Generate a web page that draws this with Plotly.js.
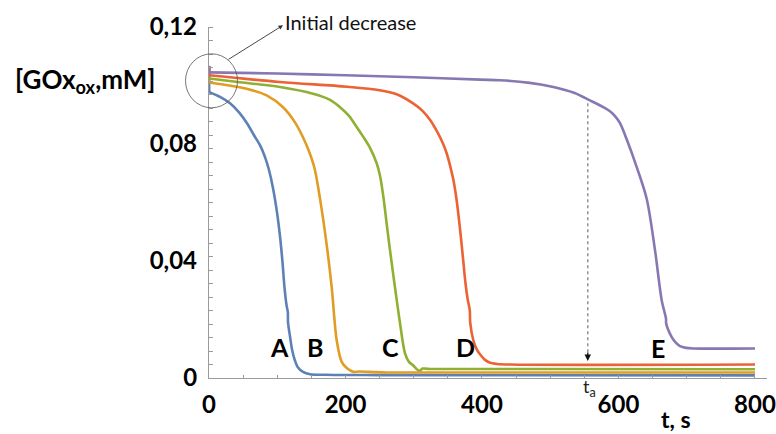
<!DOCTYPE html>
<html>
<head>
<meta charset="utf-8">
<script src="https://cdn.plot.ly/plotly-3.0.1.min.js"></script>
<style>
  html, body { margin: 0; padding: 0; background: #fff; }
  #chart { width: 776px; height: 434px; }
</style>
</head>
<body>
<div id="chart"></div>
<script>
// Curve names (labels drawn next to each curve)
const curveNames = ["A", "B", "C", "D", "E"];

// Time (s) and oxidised GOx concentration (mM) for each curve
const tA = [0, 0.3, 16.1, 30.8, 44.0, 55.7, 65.9, 74.7, 82.1, 87.9, 93.8, 99.6, 104.0, 107.7, 110.6, 113.6, 115.5, 115.8, 118.7, 121.6, 125.3, 130.4, 137.7, 148.0, 170.0, 250, 800];
const gA = [0.1067, 0.0977, 0.0961, 0.0939, 0.0908, 0.0871, 0.0830, 0.0796, 0.0755, 0.0711, 0.0649, 0.0567, 0.0485, 0.0396, 0.0310, 0.0249, 0.0225, 0.0190, 0.0142, 0.0098, 0.0064, 0.0036, 0.0021, 0.0013, 0.0011, 0.0010, 0.0009];

const tB = [0, 0.3, 30.0, 55.2, 84.5, 108.9, 126.0, 137.7, 146.5, 154.6, 162.6, 172.5, 179.8, 187.1, 194.4, 202.2, 211.4, 220, 260, 800];
const gB = [0.1067, 0.1010, 0.1000, 0.0989, 0.0966, 0.0925, 0.0874, 0.0823, 0.0775, 0.0717, 0.0614, 0.0454, 0.0310, 0.0129, 0.0055, 0.0033, 0.0021, 0.0022, 0.0019, 0.0019];

const tC = [0, 0.3, 45.4, 104.0, 152.4, 177.3, 192.0, 205.1, 216.4, 225.6, 235.9, 245.7, 250.5, 255.4, 260.1, 265.2, 272.5, 279.9, 287.2, 293.0, 299.3, 306.2, 310.6, 312.1, 323.8, 800];
const gC = [0.1067, 0.1024, 0.1011, 0.0995, 0.0972, 0.0951, 0.0926, 0.0896, 0.0858, 0.0826, 0.0787, 0.0734, 0.0692, 0.0621, 0.0532, 0.0437, 0.0310, 0.0187, 0.0084, 0.0055, 0.0043, 0.0027, 0.0027, 0.0032, 0.0031, 0.0030];

const tD = [0, 0.3, 104.0, 202.1, 250.0, 275.0, 299.0, 312.1, 323.8, 334.1, 343.0, 348.7, 353.1, 358.2, 362.9, 367.7, 372.2, 375.8, 378.8, 382.1, 382.7, 387.3, 392.7, 397.1, 404.4, 411.7, 422.0, 441.0, 800];
const gD = [0.1067, 0.1035, 0.1012, 0.0996, 0.0984, 0.0970, 0.0939, 0.0915, 0.0883, 0.0843, 0.0801, 0.0765, 0.0727, 0.0676, 0.0607, 0.0512, 0.0409, 0.0324, 0.0272, 0.0231, 0.0190, 0.0129, 0.0096, 0.0081, 0.0062, 0.0052, 0.0048, 0.0046, 0.0046];

const tE = [0, 0.3, 100, 200, 300, 397, 426.4, 470, 504.5, 534.8, 558.2, 577, 587.5, 594.9, 602.2, 612, 626.7, 641.3, 653.5, 663.3, 669.6, 669.9, 678, 684.3, 690.1, 698.9, 709.6, 800];
const gE = [0.1067, 0.1045, 0.1041, 0.1035, 0.1028, 0.1020, 0.1018, 0.1009, 0.0995, 0.0975, 0.0949, 0.0927, 0.0912, 0.0895, 0.0871, 0.0816, 0.0721, 0.0613, 0.0437, 0.0266, 0.0203, 0.0186, 0.0140, 0.0120, 0.0109, 0.0103, 0.0101, 0.0101];

// Axis ticks
const xTickVals = [0, 200, 400, 600, 800];
const xTickText = ["0", "200", "400", "600", "800"];
const yTickVals = [0, 0.04, 0.08, 0.12];
const yTickText = ["0", "0,04", "0,08", "0,12"];

// Activation time marked on the chart
const tActivation = 555;
const gActivationTop = 0.0939;
const gActivationTip = 0.0058;

const colors = ["#5E81B5", "#E19C24", "#8FB032", "#EB6235", "#8778B3"];
const times = [tA, tB, tC, tD, tE];
const values = [gA, gB, gC, gD, gE];

// The jump at t = 0 is drawn straight; the decay after it is smoothed.
const jumpTraces = curveNames.map((name, i) => ({
  type: "scatter", mode: "lines", name: name + " (t=0)",
  x: times[i].slice(0, 2), y: values[i].slice(0, 2),
  line: { color: colors[i], width: 2.6 }, hoverinfo: "skip"
}));
const decayTraces = curveNames.map((name, i) => ({
  type: "scatter", mode: "lines", name: name,
  x: times[i].slice(1), y: values[i].slice(1),
  line: { color: colors[i], width: 2.6, shape: "spline", smoothing: 0.9 },
  hoverinfo: "skip"
}));

const FONT = "Lato, 'Open Sans', sans-serif";
const axisGrey = "#9a9a9a";

// Curve letter positions (x in s, y in mM)
const letterPos = [
  [102.6, 0.0107], [156, 0.0107], [266, 0.0107], [376, 0.0107], [658, 0.0102]
];
const letters = curveNames.map((name, i) => ({
  xref: "x", yref: "y", x: letterPos[i][0], y: letterPos[i][1],
  text: name, showarrow: false,
  font: { family: FONT, size: 25, color: "#000", weight: 700 }
}));

const layout = {
  width: 776,
  height: 434,
  margin: { l: 209, r: 9, t: 27, b: 56 },
  paper_bgcolor: "#fff",
  plot_bgcolor: "#fff",
  showlegend: false,
  xaxis: {
    range: [0, 817.6],
    showgrid: false,
    zeroline: false,
    showline: true,
    linecolor: axisGrey,
    linewidth: 1.3,
    tickmode: "array",
    tickvals: xTickVals,
    ticktext: xTickText,
    ticks: "inside",
    ticklen: 3,
    tickcolor: axisGrey,
    tickwidth: 1,
    minor: { tickmode: "linear", tick0: 0, dtick: 50, ticks: "inside", ticklen: 3, tickcolor: axisGrey, tickwidth: 1 },
    ticklabelstandoff: 5,
    tickfont: { family: FONT, size: 24, color: "#000", weight: 700 }
  },
  yaxis: {
    range: [0, 0.12],
    showgrid: false,
    zeroline: false,
    showline: true,
    linecolor: axisGrey,
    linewidth: 1.3,
    tickmode: "array",
    tickvals: yTickVals,
    ticktext: yTickText,
    ticks: "",
    minor: { tickmode: "linear", tick0: 0, dtick: 0.12 / 26, ticks: "inside", ticklen: 4, tickcolor: axisGrey, tickwidth: 1 },
    ticklabelstandoff: 6,
    tickfont: { family: FONT, size: 24, color: "#000", weight: 700 }
  },
  shapes: [
    // circle around the initial drop at t = 0
    { type: "circle", xref: "paper", yref: "paper",
      x0: -0.0421, x1: 0.0511, y0: 0.7698, y1: 0.9236,
      line: { color: "#555", width: 0.8 } },
    // dotted guide down to the activation time
    { type: "line", xref: "x", yref: "y",
      x0: tActivation, x1: tActivation, y0: gActivationTop, y1: gActivationTip + 0.002,
      line: { color: "#8a8a8a", width: 1.4, dash: "dot" } }
  ],
  annotations: [
    ...letters,
    // y axis label
    { xref: "paper", yref: "paper", x: -0.3513, y: 0.848, xanchor: "left", yanchor: "middle",
      text: "[GOx<sub>ox</sub>,mM]", showarrow: false,
      font: { family: FONT, size: 26, color: "#000", weight: 700 } },
    // x axis label
    { xref: "paper", yref: "paper", x: 0.837, y: -0.118, xanchor: "center", yanchor: "middle",
      text: "t, s", showarrow: false,
      font: { family: FONT, size: 23, color: "#000", weight: 700 } },
    // activation time label
    { xref: "x", yref: "paper", x: tActivation + 2, y: -0.026, xanchor: "center", yanchor: "middle",
      text: "t<sub>a</sub>", showarrow: false,
      font: { family: FONT, size: 18, color: "#222" } },
    // arrowhead at the foot of the dotted guide
    { xref: "x", yref: "y", x: tActivation, y: gActivationTip, axref: "pixel", ayref: "pixel",
      ax: 0, ay: -10, text: "", showarrow: true, arrowhead: 2, arrowsize: 1, arrowwidth: 1.3, arrowcolor: "#111" },
    // pointer from the circle to its caption
    { xref: "paper", yref: "paper", x: 0.1326, y: 1.0048, axref: "pixel", ayref: "pixel",
      ax: -56, ay: 35, text: "", showarrow: true, arrowhead: 2, arrowsize: 1, arrowwidth: 0.9, arrowcolor: "#333" },
    { xref: "paper", yref: "paper", x: 0.1330, y: 1.0133, xanchor: "left", yanchor: "middle",
      text: "Initial decrease", showarrow: false,
      font: { family: FONT, size: 20, color: "#111" } }
  ]
};

Plotly.newPlot("chart", jumpTraces.concat(decayTraces), layout, { displayModeBar: false, responsive: false });
</script>
</body>
</html>
